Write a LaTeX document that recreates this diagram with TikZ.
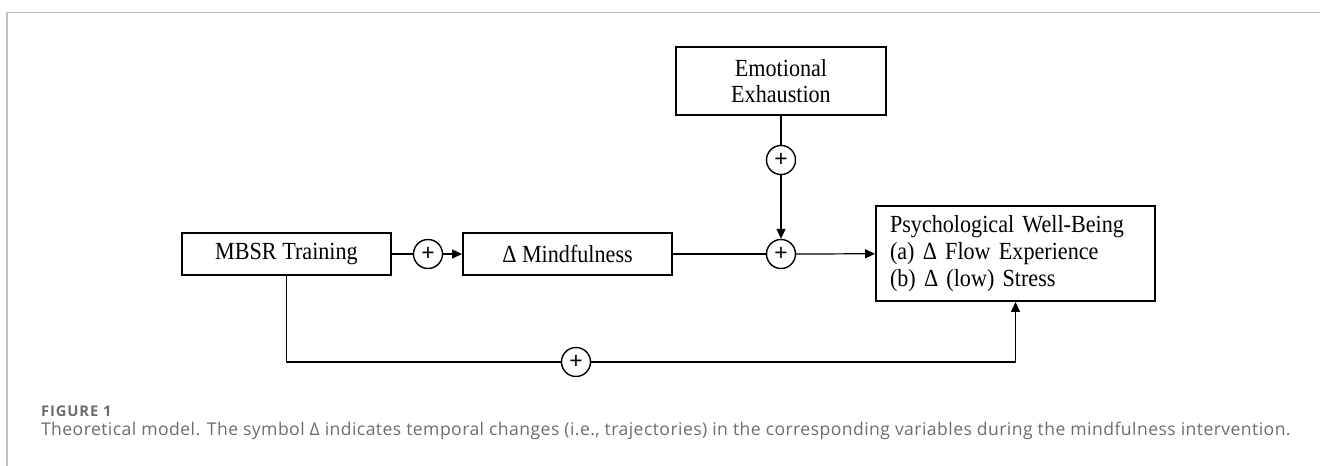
\documentclass[tikz,border=0pt]{standalone}
\usepackage{fontspec}
\setmainfont{Liberation Serif}[FakeStretch=0.9]
\newfontfamily\capfont{Open Sans}[LetterSpace=2.5]
\newfontfamily\labelfont{Open Sans}[LetterSpace=6]
\newfontfamily\plusfont{Liberation Sans}
\usetikzlibrary{arrows.meta,positioning,calc}
\definecolor{framegray}{RGB}{192,192,192}
\definecolor{captiongray}{RGB}{108,108,108}

\begin{document}
\begin{tikzpicture}[x=0.02cm,y=-0.02cm,
    varbox/.style={draw,line width=1.1pt,inner sep=0pt,minimum height=0.84cm,minimum width=4.18cm,font=\fontsize{14}{15.2}\selectfont},
    signnode/.style={draw,circle,line width=0.8pt,minimum size=0.58cm,inner sep=0pt,font=\plusfont\fontsize{13}{13}\selectfont},
    link/.style={line width=0.7pt},
    arr/.style={link,-{Triangle[length=0.2cm,width=0.18cm]}}]
      \useasboundingbox (0,0) rectangle (1320,466);
      \draw[framegray,line width=0.85pt] (7,466) -- (7,12.5) -- (1320,12.5);

      \node[varbox] (mbsr) at (286.5,254) {MBSR Training};
      \node[varbox] (mind) at (567.5,254) {Δ Mindfulness};
      \node[varbox,minimum width=4.2cm,minimum height=1.36cm,align=center] (emo) at (781,81) {Emotional\\Exhaustion};
      \node[varbox,text width=5.02cm,inner xsep=0.28cm,inner ysep=0.1cm,minimum height=1.9cm,align=left] (psy) at (1015.5,253.5)
        {Psychological Well-Being\\(a) Δ Flow Experience\\(b) Δ (low) Stress};

      \node[signnode] (s1) at (428,254) {+};
      \node[signnode] (s2) at (781,160) {+};
      \node[signnode] (s3) at (781,254) {+};
      \node[signnode] (s4) at (576,362) {+};

      \draw[link] (mbsr) -- (s1);
      \draw[arr] (s1) -- (mind);
      \draw[link] (emo) -- (s2);
      \draw[arr] (s2) -- (s3);
      \draw[link] (mind) -- (s3);
      \draw[arr] (s3) -- (psy);
      \draw[link] (mbsr) |- (s4);
      \draw[arr] (s4) -| (psy);

      \node[anchor=base west,inner sep=0pt,text=captiongray,font=\labelfont\bfseries\fontsize{8.4}{9}\selectfont] (figlabel) at (40.7,416.7) {FIGURE 1};
      \node[anchor=base west,inner sep=0pt,text=captiongray,font=\capfont\fontsize{10}{12}\selectfont] (figcaption) at (40.7,435)
        {Theoretical model. The symbol Δ indicates temporal changes (i.e., trajectories) in the corresponding variables during the mindfulness intervention.};
    \end{tikzpicture}
\end{document}
